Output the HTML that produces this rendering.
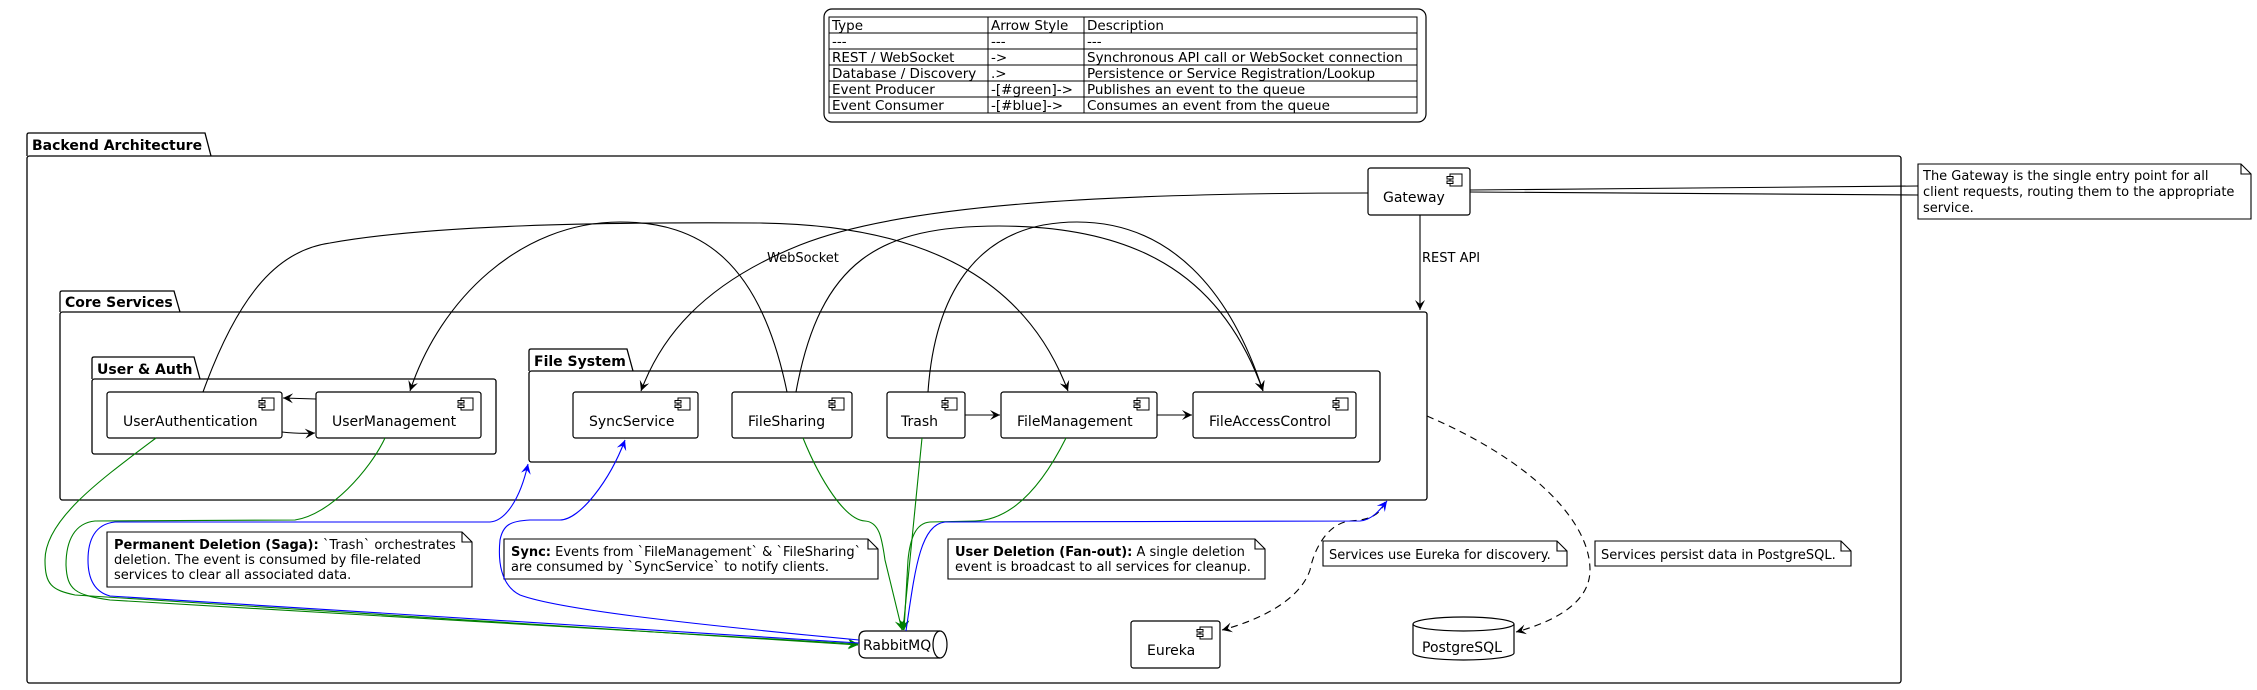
<!DOCTYPE html>
<html><head><meta charset="utf-8"><style>
html,body{margin:0;padding:0;background:#fff;}
svg{display:block;font-family:"DejaVu Sans","Liberation Sans",sans-serif;}
</style></head><body>
<svg width="2257" height="690" viewBox="0 0 2257 690" xmlns="http://www.w3.org/2000/svg">
<defs>
<marker id="ak" markerWidth="12" markerHeight="10" refX="10" refY="5" orient="auto" markerUnits="userSpaceOnUse"><path d="M0,0 L10,5 L0,10 L4,5 Z" fill="#000"/></marker>
<marker id="ag" markerWidth="12" markerHeight="10" refX="10" refY="5" orient="auto" markerUnits="userSpaceOnUse"><path d="M0,0 L10,5 L0,10 L4,5 Z" fill="#008000"/></marker>
<marker id="ab" markerWidth="12" markerHeight="10" refX="10" refY="5" orient="auto" markerUnits="userSpaceOnUse"><path d="M0,0 L10,5 L0,10 L4,5 Z" fill="#0000ff"/></marker>
<g id="ci"><rect x="0" y="0" width="12" height="12" fill="#fff" stroke="#000" stroke-width="1"/><rect x="-3" y="2.5" width="6" height="2.5" fill="#fff" stroke="#000" stroke-width="1"/><rect x="-3" y="7" width="6" height="2.5" fill="#fff" stroke="#000" stroke-width="1"/></g>
</defs>

<!-- Legend -->
<rect x="824" y="9" width="602" height="113" rx="8" fill="#fff" stroke="#000" stroke-width="1.2"/>
<g stroke="#000" stroke-width="1" fill="none">
<rect x="829" y="17" width="588" height="96"/>
<line x1="829" y1="33" x2="1417" y2="33"/><line x1="829" y1="49" x2="1417" y2="49"/>
<line x1="829" y1="65" x2="1417" y2="65"/><line x1="829" y1="81" x2="1417" y2="81"/>
<line x1="829" y1="97" x2="1417" y2="97"/>
<line x1="988" y1="17" x2="988" y2="113"/><line x1="1084" y1="17" x2="1084" y2="113"/>
</g>
<g font-size="13.5" fill="#000">
<text x="832" y="30">Type</text><text x="991" y="30">Arrow Style</text><text x="1087" y="30">Description</text>
<text x="832" y="46">---</text><text x="991" y="46">---</text><text x="1087" y="46">---</text>
<text x="832" y="62">REST / WebSocket</text><text x="991" y="62">-&gt;</text><text x="1087" y="62">Synchronous API call or WebSocket connection</text>
<text x="832" y="78">Database / Discovery</text><text x="991" y="78">.&gt;</text><text x="1087" y="78">Persistence or Service Registration/Lookup</text>
<text x="832" y="94">Event Producer</text><text x="991" y="94">-[#green]-&gt;</text><text x="1087" y="94">Publishes an event to the queue</text>
<text x="832" y="110">Event Consumer</text><text x="991" y="110">-[#blue]-&gt;</text><text x="1087" y="110">Consumes an event from the queue</text>
</g>

<!-- Packages -->
<g fill="none" stroke="#000" stroke-width="1.3">
<path d="M27,156 L27,135 Q27,133 29,133 L205,133 L211,156"/>
<rect x="27" y="156" width="1874" height="527" rx="2.5"/>
<path d="M60,312 L60,293 Q60,291 62,291 L174,291 L180,312"/>
<rect x="60" y="312" width="1367" height="188" rx="2.5"/>
<path d="M92,379 L92,359 Q92,357 94,357 L194,357 L200,379"/>
<rect x="92" y="379" width="404" height="75" rx="2.5"/>
<path d="M529,371 L529,351 Q529,349 531,349 L627,349 L633,371"/>
<rect x="529" y="371" width="851" height="91" rx="2.5"/>
</g>
<g font-size="14" font-weight="bold" fill="#000">
<text x="32" y="150">Backend Architecture</text>
<text x="65" y="307">Core Services</text>
<text x="97" y="374">User &amp; Auth</text>
<text x="534" y="366">File System</text>
</g>

<!-- Components -->
<g fill="#fff" stroke="#000" stroke-width="1.2">
<rect x="107" y="392" width="175" height="46" rx="2.5"/>
<rect x="316" y="392" width="165" height="46" rx="2.5"/>
<rect x="573" y="392" width="125" height="46" rx="2.5"/>
<rect x="732" y="392" width="120" height="46" rx="2.5"/>
<rect x="887" y="392" width="78" height="46" rx="2.5"/>
<rect x="1001" y="392" width="156" height="46" rx="2.5"/>
<rect x="1193" y="392" width="163" height="46" rx="2.5"/>
<rect x="1368" y="168" width="102" height="47" rx="2.5"/>
<rect x="1131" y="621" width="89" height="47" rx="2.5"/>
</g>
<use href="#ci" x="262" y="398"/><use href="#ci" x="461" y="398"/><use href="#ci" x="678" y="398"/>
<use href="#ci" x="832" y="398"/><use href="#ci" x="945" y="398"/><use href="#ci" x="1137" y="398"/>
<use href="#ci" x="1336" y="398"/><use href="#ci" x="1450" y="174"/><use href="#ci" x="1200" y="627"/>
<g font-size="14" fill="#000">
<text x="123" y="426">UserAuthentication</text>
<text x="332" y="426">UserManagement</text>
<text x="589" y="426">SyncService</text>
<text x="748" y="426">FileSharing</text>
<text x="901" y="426">Trash</text>
<text x="1017" y="426">FileManagement</text>
<text x="1209" y="426">FileAccessControl</text>
<text x="1383" y="202">Gateway</text>
<text x="1147" y="655">Eureka</text>
</g>

<!-- RabbitMQ queue -->
<path d="M866,631 L940,631 A7,13.5 0 0 1 940,658 L866,658 Q859,658 859,651 L859,638 Q859,631 866,631 Z" fill="#fff" stroke="#000" stroke-width="1.2"/>
<path d="M940,631 A7,13.5 0 0 0 940,658" fill="none" stroke="#000" stroke-width="1.2"/>
<text x="863" y="650" font-size="14">RabbitMQ</text>
<!-- PostgreSQL -->
<path d="M1413,624 L1413,653 A50.5,7 0 0 0 1514,653 L1514,624 A50.5,7 0 0 0 1413,624 Z" fill="#fff" stroke="#000" stroke-width="1.2"/>
<path d="M1413,624 A50.5,7 0 0 0 1514,624" fill="none" stroke="#000" stroke-width="1.2"/>
<text x="1422" y="652" font-size="14">PostgreSQL</text>

<!-- Notes -->
<g fill="#fff" stroke="#000" stroke-width="1.1">
<path d="M1918,164 L2241,164 L2251,174 L2251,219 L1918,219 Z"/><path d="M2241,164 L2241,174 L2251,174" fill="none"/>
<path d="M107,532 L462,532 L472,542 L472,587 L107,587 Z"/><path d="M462,532 L462,542 L472,542" fill="none"/>
<path d="M504,539 L868,539 L878,549 L878,579 L504,579 Z"/><path d="M868,539 L868,549 L878,549" fill="none"/>
<path d="M948,539 L1255,539 L1265,549 L1265,579 L948,579 Z"/><path d="M1255,539 L1255,549 L1265,549" fill="none"/>
<path d="M1323,541 L1557,541 L1567,551 L1567,566 L1323,566 Z"/><path d="M1557,541 L1557,551 L1567,551" fill="none"/>
<path d="M1595,541 L1841,541 L1851,551 L1851,566 L1595,566 Z"/><path d="M1841,541 L1841,551 L1851,551" fill="none"/>
</g>
<g font-size="13" fill="#000">
<text x="1923" y="180">The Gateway is the single entry point for all</text>
<text x="1923" y="196">client requests, routing them to the appropriate</text>
<text x="1923" y="212">service.</text>
<text x="114" y="549"><tspan font-weight="bold">Permanent Deletion (Saga):</tspan> `Trash` orchestrates</text>
<text x="114" y="564">deletion. The event is consumed by file-related</text>
<text x="114" y="579">services to clear all associated data.</text>
<text x="511" y="556"><tspan font-weight="bold">Sync:</tspan> Events from `FileManagement` &amp; `FileSharing`</text>
<text x="511" y="571">are consumed by `SyncService` to notify clients.</text>
<text x="955" y="556"><tspan font-weight="bold">User Deletion (Fan-out):</tspan> A single deletion</text>
<text x="955" y="571">event is broadcast to all services for cleanup.</text>
<text x="1329" y="559">Services use Eureka for discovery.</text>
<text x="1601" y="559">Services persist data in PostgreSQL.</text>
</g>

<!-- Black connectors -->
<g fill="none" stroke="#000" stroke-width="1.1">
<path d="M1470,190 L1918,186"/><path d="M1470,192 L1918,195"/>
<path d="M1420,215 L1420,310" marker-end="url(#ak)"/>
<path d="M1368,193 C1100,193 900,205 800,245 C700,285 660,340 641,391" marker-end="url(#ak)"/>
<path d="M203,392 C240,290 280,250 330,243 C430,225 600,222 760,223 C940,225 1030,290 1068,391" marker-end="url(#ak)"/>
<path d="M787,392 C760,260 700,222 620,222 C520,222 440,300 410,391" marker-end="url(#ak)"/>
<path d="M796,392 C820,260 880,226 999,226 C1130,226 1220,270 1263,391" marker-end="url(#ak)"/>
<path d="M928,392 C935,290 980,222 1077,222 C1170,222 1230,290 1263,391" marker-end="url(#ak)"/>
<path d="M316,399 L283,398" marker-end="url(#ak)"/>
<path d="M282,432 Q300,434 315,433" marker-end="url(#ak)"/>
<path d="M965,415 L1000,415" marker-end="url(#ak)"/>
<path d="M1157,415 L1192,415" marker-end="url(#ak)"/>
<path d="M1385,502 C1380,515 1370,520 1350,521 C1330,523 1315,545 1310,570 C1300,600 1260,620 1222,630" stroke-dasharray="7,5" marker-end="url(#ak)"/>
<path d="M1427,416 C1530,460 1590,520 1590,570 C1590,600 1560,620 1516,632" stroke-dasharray="7,5" marker-end="url(#ak)"/>
</g>
<g font-size="13" fill="#000"><text x="767" y="262">WebSocket</text><text x="1422" y="262">REST API</text></g>

<!-- Green producers -->
<g fill="none" stroke="#008000" stroke-width="1.1">
<path d="M156,438 C100,480 45,520 45,560 C45,585 52,590 75,595 L858,645" marker-end="url(#ag)"/>
<path d="M385,438 C370,470 330,515 295,520 L95,521 C75,523 66,540 66,565 C67,590 75,595 110,600 L858,644" marker-end="url(#ag)"/>
<path d="M803,438 C820,480 845,520 865,521 C880,522 882,540 885,560 L902,630" marker-end="url(#ag)"/>
<path d="M922,438 L903,630" marker-end="url(#ag)"/>
<path d="M1066,438 C1040,490 1010,520 975,521 L930,522 C915,523 910,540 908,560 L904,630" marker-end="url(#ag)"/>
</g>
<!-- Blue consumers -->
<g fill="none" stroke="#0000ff" stroke-width="1.1">
<path d="M859,643 L110,596 C95,592 88,580 88,560 C88,540 95,524 115,522 L490,522 C505,521 520,500 528,464" marker-end="url(#ab)"/>
<path d="M859,640 C700,625 560,610 520,595 C500,585 498,560 500,540 C503,525 510,521 530,520 L560,520 C580,520 610,480 625,440" marker-end="url(#ab)"/>
<path d="M906,631 C915,570 920,525 945,522 L1360,521 C1372,520 1380,510 1387,501" marker-end="url(#ab)"/>
</g>
</svg>
</body></html>
